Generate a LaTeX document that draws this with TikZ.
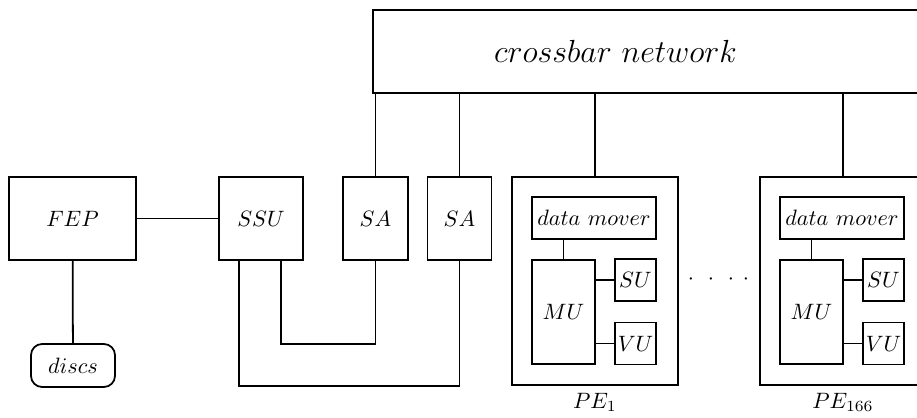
\documentclass[tikz,border=0pt]{standalone}
\usepackage{amsmath}
\usepackage{tikz}
\usetikzlibrary{positioning}
\tikzstyle{Box}=[draw,thick,inner sep=0pt,rectangle]
\tikzstyle{Edge}=[draw,thick,line cap=round]
\tikzstyle{Disc}=[draw,thick,inner sep=0pt,rounded corners=5pt]
\tikzstyle{PELabel}=[inner sep=1pt]

\begin{document}
\begin{tikzpicture}[x=0.45pt,y=-0.45pt]
        \useasboundingbox (0,0) rectangle (917,417);
        \clip (0,0) rectangle (917,417);
        % top network
        \node[Box,minimum width=640*0.45pt,minimum height=83*0.45pt](xbar)at(693,51.5){};
        \node(xbarlabel)at(615.5,51.5){\fontsize{13.5}{16}\selectfont$crossbar\ network$};
        % front end and storage
        \node[Box,minimum width=127*0.45pt,minimum height=83*0.45pt](fep)at(72.5,218.5){$FEP$};
        \node[Disc,minimum width=84*0.45pt,minimum height=43*0.45pt](discs)at(73,365.5){$discs$};
        \node[Box,minimum width=84*0.45pt,minimum height=83*0.45pt](ssu)at(261,218.5){$SSU$};
        \node[Box,minimum width=65*0.45pt,minimum height=83*0.45pt](sa1)at(375.5,218.5){$SA$};
        \node[Box,minimum width=64*0.45pt,minimum height=83*0.45pt](sa2)at(459.5,218.5){$SA$};
        % processing elements
        \node[Box,minimum width=166*0.45pt,minimum height=208*0.45pt](pe1)at(595,281){};
        \node[Box,minimum width=124*0.45pt,minimum height=42*0.45pt](dm1)at(594,218){$data\ mover$};
        \node[Box,minimum width=63*0.45pt,minimum height=104*0.45pt](mu1)at(563.5,312){$MU$};
        \node[Box,minimum width=41*0.45pt,minimum height=42*0.45pt](su1)at(635.5,280){$SU$};
        \node[Box,minimum width=41*0.45pt,minimum height=42*0.45pt](vu1)at(635.5,343.5){$VU$};
        \node[PELabel,below=2pt of pe1](pe1label){$PE_1$};
        \node(dots)at(718.5,280){$\cdot\hspace{4pt}\cdot\hspace{4pt}\cdot\hspace{4pt}\cdot$};
        \node[Box,minimum width=166*0.45pt,minimum height=208*0.45pt](pe166)at(843,281){};
        \node[Box,minimum width=124*0.45pt,minimum height=42*0.45pt](dm166)at(842,218){$data\ mover$};
        \node[Box,minimum width=63*0.45pt,minimum height=104*0.45pt](mu166)at(811.5,312){$MU$};
        \node[Box,minimum width=41*0.45pt,minimum height=42*0.45pt](su166)at(883.5,280){$SU$};
        \node[Box,minimum width=41*0.45pt,minimum height=42*0.45pt](vu166)at(883.5,343.5){$VU$};
        \node[PELabel,below=2pt of pe166](pe166label){$PE_{166}$};
        \coordinate(t1)at(281,344);
        \coordinate(t2)at(239,386);
        \draw[Edge](fep)--(ssu);
        \draw[Edge](fep)--(discs);
        \draw[Edge](sa1.north)--(sa1.north|-xbar.south);
        \draw[Edge](sa2.north)--(sa2.north|-xbar.south);
        \draw[Edge](pe1.north)--(pe1.north|-xbar.south);
        \draw[Edge](pe166.north)--(pe166.north|-xbar.south);
        \draw[Edge](ssu.south-|t1)--(t1)-|(sa1.south);
        \draw[Edge](ssu.south-|t2)--(t2)-|(sa2.south);
        \draw[Edge](mu1.north)--(mu1.north|-dm1.south);
        \draw[Edge](su1.west)--(su1.west-|mu1.east);
        \draw[Edge](vu1.west)--(vu1.west-|mu1.east);
        \draw[Edge](mu166.north)--(mu166.north|-dm166.south);
        \draw[Edge](su166.west)--(su166.west-|mu166.east);
        \draw[Edge](vu166.west)--(vu166.west-|mu166.east);
    \end{tikzpicture}
\end{document}
